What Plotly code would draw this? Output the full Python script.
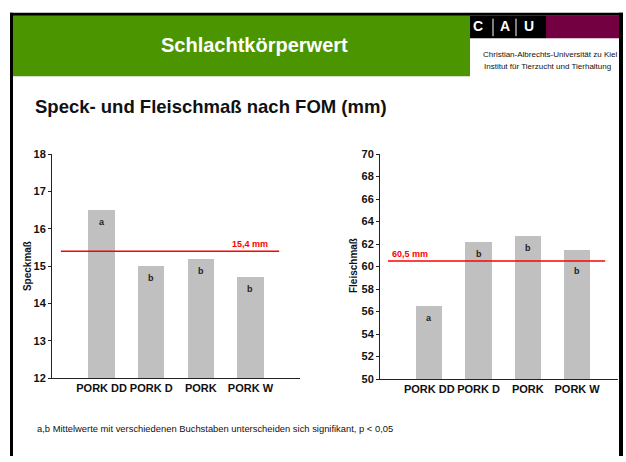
import plotly.graph_objects as go

W, H = 626, 462

categories = ["PORK DD", "PORK D", "PORK", "PORK W"]
speck_values = [16.5, 15.0, 15.2, 14.7]
speck_letters = ["a", "b", "b", "b"]
speck_mean = 15.4
speck_ticks = [12, 13, 14, 15, 16, 17, 18]

fleisch_values = [56.5, 62.2, 62.7, 61.5]
fleisch_letters = ["a", "b", "b", "b"]
fleisch_mean = 60.5
fleisch_ticks = [50, 52, 54, 56, 58, 60, 62, 64, 66, 68, 70]


def X(px):
    return px / W


def Y(py):
    return 1 - py / H


FONT = "Liberation Sans, Arial, sans-serif"
BAR = "#c0c0c0"
RED = "#ff0000"

fig = go.Figure()

xs = list(range(len(categories)))

# left chart
fig.add_trace(go.Bar(x=xs, y=[v - 12 for v in speck_values], base=12, width=0.53,
                     marker=dict(color=BAR, line=dict(width=0)), xaxis="x", yaxis="y",
                     hoverinfo="skip"))
fig.add_trace(go.Scatter(x=[-0.82, 3.58], y=[speck_mean, speck_mean], mode="lines",
                         line=dict(color=RED, width=1.5), xaxis="x", yaxis="y",
                         hoverinfo="skip"))
# right chart
fig.add_trace(go.Bar(x=xs, y=[v - 50 for v in fleisch_values], base=50, width=0.53,
                     marker=dict(color=BAR, line=dict(width=0)), xaxis="x2", yaxis="y2",
                     hoverinfo="skip"))
fig.add_trace(go.Scatter(x=[-0.84, 3.57], y=[fleisch_mean, fleisch_mean], mode="lines",
                         line=dict(color=RED, width=1.5), xaxis="x2", yaxis="y2",
                         hoverinfo="skip"))

tickfont = dict(family=FONT, size=11, color="#111111", weight="bold")

axis_common = dict(showgrid=False, zeroline=False, showline=True, linecolor="#222222",
                   linewidth=1, tickfont=tickfont, fixedrange=True)

fig.update_layout(
    width=W, height=H,
    margin=dict(l=0, r=0, t=0, b=0),
    paper_bgcolor="white", plot_bgcolor="rgba(0,0,0,0)",
    showlegend=False,
    bargap=0,
    hovermode=False,
    xaxis=dict(domain=[X(52), X(300)], range=[-1, 4], anchor="y",
               tickvals=xs, ticktext=categories, ticks="", ticklen=0, **axis_common),
    yaxis=dict(domain=[Y(382), Y(152)], range=[12, 18], anchor="x",
               tickvals=speck_ticks, ticks="outside", ticklen=3, tickcolor="#222222",
               **axis_common),
    xaxis2=dict(domain=[X(380), X(618)], range=[-1, 3.83], anchor="y2",
                tickvals=xs, ticktext=categories, ticks="", ticklen=0, **axis_common),
    yaxis2=dict(domain=[Y(383), Y(152)], range=[50, 70], anchor="x2",
                tickvals=fleisch_ticks, ticks="outside", ticklen=3, tickcolor="#222222",
                **axis_common),
)

shapes = []
# frame and header
shapes.append(dict(type="rect", xref="paper", yref="paper", x0=X(10), x1=X(623), y0=Y(10), y1=Y(7),
                   fillcolor="black", line=dict(width=0), layer="above"))
shapes.append(dict(type="rect", xref="paper", yref="paper", x0=X(10), x1=X(13), y0=Y(462), y1=Y(7),
                   fillcolor="black", line=dict(width=0), layer="above"))
shapes.append(dict(type="rect", xref="paper", yref="paper", x0=X(619), x1=X(623), y0=Y(462), y1=Y(7),
                   fillcolor="black", line=dict(width=0), layer="above"))
shapes.append(dict(type="rect", xref="paper", yref="paper", x0=X(13), x1=X(470), y0=Y(72), y1=Y(10),
                   fillcolor="#4b9600", line=dict(width=0), layer="below"))
shapes.append(dict(type="rect", xref="paper", yref="paper", x0=X(470), x1=X(546), y0=Y(33), y1=Y(10),
                   fillcolor="black", line=dict(width=0), layer="below"))
shapes.append(dict(type="rect", xref="paper", yref="paper", x0=X(546), x1=X(619), y0=Y(33), y1=Y(10),
                   fillcolor="#730040", line=dict(width=0), layer="below"))
for lx in (493, 516):
    shapes.append(dict(type="line", xref="paper", yref="paper", x0=X(lx), x1=X(lx), y0=Y(31), y1=Y(13),
                       line=dict(color="white", width=1)))
fig.update_layout(shapes=shapes)


def pann(text, px, py, size, color="#111111", xanchor="center", angle=0):
    return dict(text=text, x=X(px), y=Y(py), xref="paper", yref="paper",
                xanchor=xanchor, yanchor="middle", textangle=angle, showarrow=False,
                font=dict(family=FONT, size=size, color=color))


ann = []
ann.append(pann("<b>Schlachtkörperwert</b>", 254, 40, 20, "white"))
for t, cx in (("C", 478), ("A", 505), ("U", 529)):
    ann.append(pann("<b>%s</b>" % t, cx, 21, 14, "white"))
ann.append(pann("Christian-Albrechts-Universität zu Kiel", 619, 50, 8, xanchor="right"))
ann.append(pann("Institut für Tierzucht und Tierhaltung", 613, 62, 8, xanchor="right"))
ann.append(pann("<b>Speck- und Fleischmaß nach FOM (mm)</b>", 33, 103, 18.5, xanchor="left"))
ann.append(pann("a,b Mittelwerte mit verschiedenen Buchstaben unterscheiden sich signifikant, p < 0,05",
                35, 434, 9.4, xanchor="left"))
# axis titles
ann.append(pann("<b>Speckmaß</b>", 27, 267, 10, angle=-90))
ann.append(pann("<b>Fleischmaß</b>", 353, 267, 10, angle=-90))
# mean labels
ann.append(dict(text="<b>%s mm</b>" % str(speck_mean).replace(".", ","), x=3, y=speck_mean,
                xref="x", yref="y", yshift=7, showarrow=False, xanchor="center", yanchor="middle",
                font=dict(family=FONT, size=9, color=RED)))
ann.append(dict(text="<b>%s mm</b>" % str(fleisch_mean).replace(".", ","), x=-0.4, y=fleisch_mean,
                xref="x2", yref="y2", yshift=7, showarrow=False, xanchor="center", yanchor="middle",
                font=dict(family=FONT, size=9, color=RED)))
# significance letters
for i, (v, l) in enumerate(zip(speck_values, speck_letters)):
    ann.append(dict(text="<b>%s</b>" % l, x=i, y=v, xref="x", yref="y", yshift=-12,
                    xanchor="center", yanchor="middle",
                    showarrow=False, font=dict(family=FONT, size=9, color="#222222")))
for i, (v, l) in enumerate(zip(fleisch_values, fleisch_letters)):
    shift = -21 if i == 3 else -12
    ann.append(dict(text="<b>%s</b>" % l, x=i, y=v, xref="x2", yref="y2", yshift=shift,
                    xanchor="center", yanchor="middle",
                    showarrow=False, font=dict(family=FONT, size=9, color="#222222")))
fig.update_layout(annotations=ann)

fig.write_html("out.html", config={"displayModeBar": False, "staticPlot": True},
               post_script="document.body.style.margin='0';document.body.style.overflow='hidden';")
